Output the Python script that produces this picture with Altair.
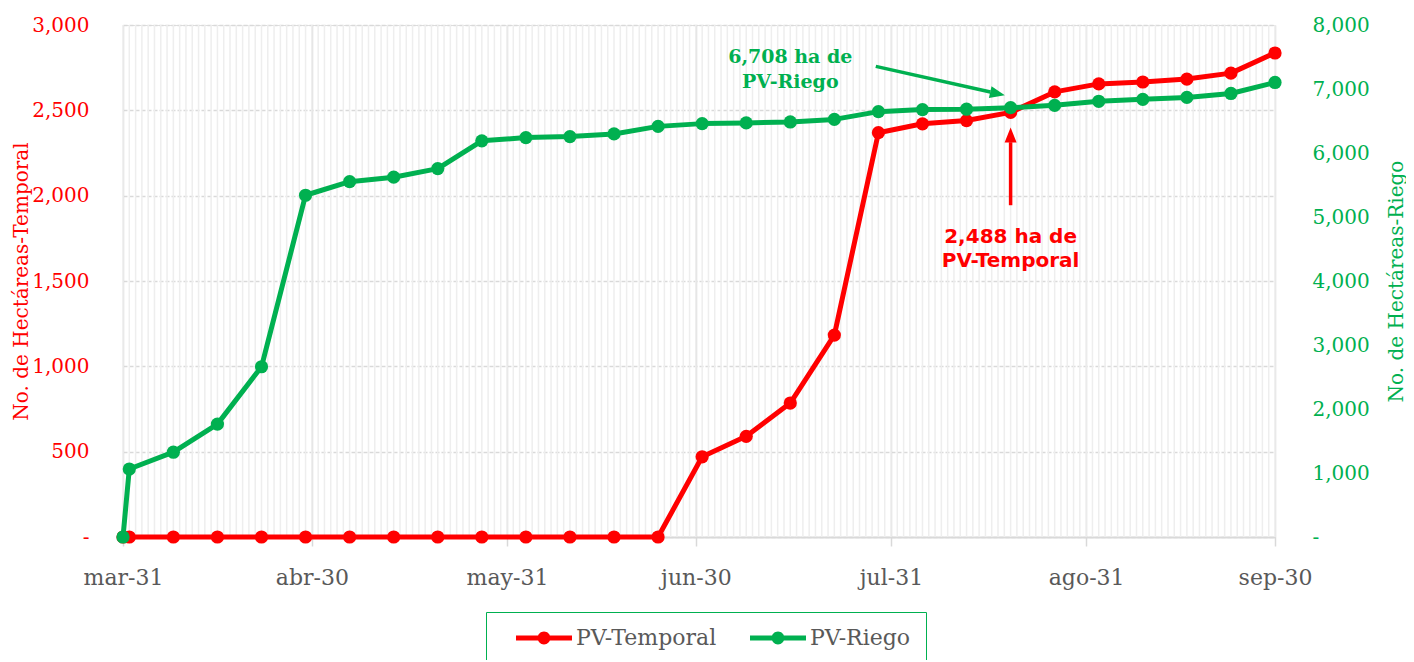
import altair as alt
import pandas as pd

# ---------------- data ----------------
fechas = [
    "2021-03-31", "2021-04-01", "2021-04-08", "2021-04-15", "2021-04-22", "2021-04-29",
    "2021-05-06", "2021-05-13", "2021-05-20", "2021-05-27", "2021-06-03", "2021-06-10",
    "2021-06-17", "2021-06-24", "2021-07-01", "2021-07-08", "2021-07-15", "2021-07-22",
    "2021-07-29", "2021-08-05", "2021-08-12", "2021-08-19", "2021-08-26", "2021-09-02",
    "2021-09-09", "2021-09-16", "2021-09-23", "2021-09-30",
]
pv_temporal = [
    0, 0, 0, 0, 0, 0, 0, 0, 0, 0, 0, 0, 0, 0,
    470, 590, 785, 1183, 2369, 2421, 2440, 2488, 2608, 2655, 2666, 2683, 2718, 2836,
]
pv_riego = [
    0, 1062, 1325, 1764, 2660, 5340, 5552, 5622, 5756, 6190, 6241, 6256, 6298, 6416,
    6459, 6470, 6485, 6525, 6646, 6678, 6684, 6708, 6745, 6808, 6838, 6868, 6930, 7102,
]
series = ["PV-Temporal", "PV-Riego"]

mes_ticks = [(3, 31), (4, 30), (5, 31), (6, 30), (7, 31), (8, 31), (9, 30)]
y_left_ticks = [0, 500, 1000, 1500, 2000, 2500, 3000]
y_right_ticks = [0, 1000, 2000, 3000, 4000, 5000, 6000, 7000, 8000]

# annotations (in data units)
nota_riego = {"fecha": "2021-07-15", "valor": 7400, "texto": "6,708 ha de\nPV-Riego"}
nota_temporal = {"fecha": "2021-08-19", "valor": 1721, "texto": "2,488 ha de\nPV-Temporal"}
flecha_riego = {"inicio": ("2021-07-28T14:00:00Z", 7354), "base": ("2021-08-15T19:00:00Z", 6952),
                "punta": ("2021-08-18T02:00:00Z", 6901), "angulo": 12.7}
flecha_temporal = {"inicio": ("2021-08-19T00:00:00Z", 1944), "base": ("2021-08-19T00:00:00Z", 2313),
                   "punta": ("2021-08-19T00:00:00Z", 2400), "angulo": 270}

ROJO = "#ff0000"
VERDE = "#00b050"
GRIS = "#595959"
FONT = "DejaVu Serif"

# ---------------- tables ----------------
df_t = pd.DataFrame({"fecha": fechas, "valor": pv_temporal, "serie": series[0]})
df_r = pd.DataFrame({"fecha": fechas, "valor": pv_riego, "serie": series[1]})
dias = pd.date_range("2021-03-31", "2021-09-30", freq="D").strftime("%Y-%m-%d").tolist()
df_dias = pd.DataFrame({"fecha": dias})


def dt(m, d):
    return alt.DateTime(year=2021, month=m, date=d, utc=True)


x_enc = alt.X(
    "fecha:T",
    scale=alt.Scale(type="utc", domain=[dt(3, 31), dt(9, 30)]),
    axis=alt.Axis(
        values=[dt(m, d) for m, d in mes_ticks],
        labelExpr="['ene','feb','mar','abr','may','jun','jul','ago','sep','oct','nov','dic'][utcmonth(datum.value)] + '-' + utcdate(datum.value)",
        grid=True, gridColor="#d9d9d9", gridWidth=1.5,
        domain=True, domainColor="#d9d9d9", domainWidth=2,
        ticks=True, tickColor="#d9d9d9", tickWidth=1.5, tickSize=9,
        labelColor=GRIS, labelFontSize=22, labelFont=FONT, labelPadding=21,
        labelFlush=False, labelOverlap=False,
    ),
    title=None,
)

y_left = alt.Y(
    "valor:Q",
    scale=alt.Scale(domain=[0, 3000], nice=False),
    axis=alt.Axis(
        orient="left", values=y_left_ticks,
        labelExpr="datum.value == 0 ? '-' : format(datum.value, ',')",
        grid=True, gridColor="#d9d9d9", gridWidth=1.5, gridDash=[4, 2],
        domain=False, ticks=False, labelPadding=34,
        labelColor=ROJO, labelFontSize=20, labelFont=FONT,
        title="No. de Hectáreas-Temporal", titleColor=ROJO, titleFontSize=20,
        titleFont=FONT, titleFontWeight="normal", titleAngle=270,
        titleX=-102, titleY=256, titleAlign="center", titleBaseline="middle",
    ),
)
y_right = alt.Y(
    "valor:Q",
    scale=alt.Scale(domain=[0, 8000], nice=False),
    axis=alt.Axis(
        orient="right", values=y_right_ticks,
        labelExpr="datum.value == 0 ? ' -' : format(datum.value, ',')",
        grid=False, domain=False, ticks=False, labelPadding=37,
        labelColor=VERDE, labelFontSize=20, labelFont=FONT,
        title="No. de Hectáreas-Riego", titleColor=VERDE, titleFontSize=20,
        titleFont=FONT, titleFontWeight="normal", titleAngle=270,
        titleX=121, titleY=256, titleAlign="center", titleBaseline="middle",
    ),
)

LEG_PATH = ("M0.8,-0.5 L12.0,-0.5 L12.0,0.5 L0.8,0.5 Z "
            "M5.12,0 A1.28,1.28 0 1,1 7.68,0 A1.28,1.28 0 1,1 5.12,0 Z")

color_enc = alt.Color(
    "serie:N",
    scale=alt.Scale(domain=series, range=[ROJO, VERDE]),
    legend=alt.Legend(
        orient="none", legendX=363, legendY=587, direction="horizontal",
        title=None, symbolType=LEG_PATH, symbolSize=100, symbolStrokeWidth=0,
        labelOffset=53, labelFontSize=22, labelFont=FONT, labelColor=GRIS,
        padding=15, strokeColor=VERDE, columnPadding=18,
    ),
)


def flecha_df(f):
    return pd.DataFrame({
        "fecha": [f["inicio"][0]], "valor": [f["inicio"][1]],
        "fecha2": [f["base"][0]], "valor2": [f["base"][1]],
    })


def punta_df(f):
    return pd.DataFrame({"fecha": [f["punta"][0]], "valor": [f["punta"][1]]})


HEAD = "M0,0 L-1,-0.4 L-1,0.4 Z"

# ---------------- left (temporal) ----------------
grid_dias = alt.Chart(df_dias).mark_rule(color="#eeeeee", strokeWidth=1.5).encode(x=x_enc)

linea_t = alt.Chart(df_t).mark_line(strokeWidth=5, strokeJoin="round").encode(
    x=x_enc, y=y_left, color=color_enc)
puntos_t = alt.Chart(df_t).mark_point(filled=True, size=175, opacity=1).encode(
    x=x_enc, y=y_left, color=color_enc)
rule_t = alt.Chart(flecha_df(flecha_temporal)).mark_rule(color=ROJO, strokeWidth=3.5).encode(
    x=x_enc, y=y_left, x2="fecha2:T", y2="valor2:Q")
head_t = alt.Chart(punta_df(flecha_temporal)).mark_point(
    shape=HEAD, size=900, filled=True, opacity=1, color=ROJO, angle=flecha_temporal["angulo"]
).encode(x=x_enc, y=y_left)
texto_t = alt.Chart(pd.DataFrame([nota_temporal])).mark_text(
    color=ROJO, font="DejaVu Sans", fontWeight="bold", fontSize=20, lineBreak="\n",
    lineHeight=24, align="center", baseline="alphabetic",
).encode(x=x_enc, y=y_left, text="texto:N")

izq = alt.layer(grid_dias, linea_t, puntos_t, rule_t, head_t, texto_t)

# ---------------- right (riego) ----------------
linea_r = alt.Chart(df_r).mark_line(strokeWidth=5, strokeJoin="round").encode(
    x=x_enc, y=y_right, color=color_enc)
puntos_r = alt.Chart(df_r).mark_point(filled=True, size=175, opacity=1).encode(
    x=x_enc, y=y_right, color=color_enc)
rule_r = alt.Chart(flecha_df(flecha_riego)).mark_rule(color=VERDE, strokeWidth=3.5).encode(
    x=x_enc, y=y_right, x2="fecha2:T", y2="valor2:Q")
head_r = alt.Chart(punta_df(flecha_riego)).mark_point(
    shape=HEAD, size=900, filled=True, opacity=1, color=VERDE, angle=flecha_riego["angulo"]
).encode(x=x_enc, y=y_right)
texto_r = alt.Chart(pd.DataFrame([nota_riego])).mark_text(
    color=VERDE, font=FONT, fontWeight="bold", fontSize=19, lineBreak="\n",
    lineHeight=25, align="center", baseline="alphabetic",
).encode(x=x_enc, y=y_right, text="texto:N")

der = alt.layer(linea_r, puntos_r, rule_r, head_r, texto_r)

chart = (
    alt.layer(izq, der)
    .resolve_scale(y="independent")
    .properties(
        width=1152, height=512,
        autosize=alt.AutoSizeParams(type="none"),
        padding={"left": 115, "top": 17, "right": 131, "bottom": 123},
    )
    .configure_view(stroke=None)
    .configure(background="white")
)

chart.save("out.html", embed_options={"renderer": "svg", "actions": False})
